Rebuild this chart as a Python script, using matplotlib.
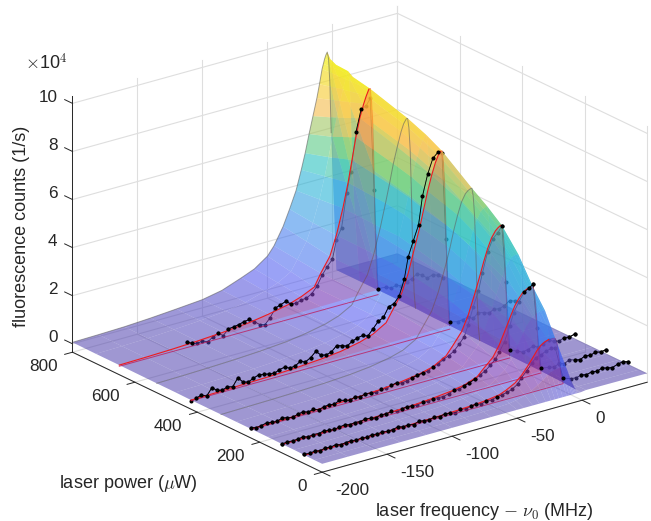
import numpy as np
import matplotlib
matplotlib.use("Agg")
import matplotlib.pyplot as plt
from matplotlib.colors import LinearSegmentedColormap
from mpl_toolkits.mplot3d.art3d import Poly3DCollection

plt.rcParams['font.family'] = ['Liberation Sans', 'DejaVu Sans']
plt.rcParams['mathtext.fontset'] = 'cm'

# Axis ticks
freq_ticks = [-200, -150, -100, -50, 0]
power_ticks = [0, 200, 400, 600, 800]
counts_ticks = [0, 2, 4, 6, 8, 10]

# Frequency nodes of the fit curves and of the surface
freq_fit = [-200, -180, -160, -140, -120, -100, -85, -70, -60, -50, -45, -38, -33, -28,
            -24, -21, -18, -15, -12, -10, -8, -7, -6, -5, -4, -3, -2, -1]

# Fit curves (x 1e4 counts)
fit_57 = [.01, .02, .03, .04, .05, .07, .10, .14, .19, .27, .38, .58, .82, 1.15,
          1.45, 1.68, 1.85, 1.95, 2.0, 2.0, 2.0, 1.95, 1.8, 1.5, 1.1, .6, .2, .05]
fit_125 = [.02, .03, .04, .06, .09, .13, .19, .28, .38, .58, .85, 1.2, 1.65, 2.25,
           2.75, 3.1, 3.35, 3.55, 3.65, 3.7, 3.7, 3.65, 3.4, 2.9, 2.1, 1.1, .4, .08]
fit_225 = [.03, .04, .06, .08, .12, .18, .26, .38, .52, .82, 1.15, 1.65, 2.25, 3.05,
           3.75, 4.3, 4.8, 5.2, 5.45, 5.55, 5.62, 5.6, 5.3, 4.6, 3.3, 1.7, .6, .1]
fit_410 = [.03, .05, .08, .11, .16, .24, .33, .50, .68, 1.0, 1.45, 2.05, 2.8, 3.8,
           4.6, 5.3, 6.0, 6.6, 7.1, 7.35, 7.5, 7.5, 7.1, 6.2, 4.4, 2.2, .8, .15]
fit_640 = [.05, .07, .10, .15, .22, .32, .45, .62, .80, 1.05, 1.55, 2.15, 2.95, 4.0,
           5.0, 5.9, 6.8, 7.55, 8.1, 8.4, 8.65, 8.65, 8.2, 7.2, 5.2, 2.6, .9, .2]

# Other rows of the surface
row_0 = [0.0] * 28
row_25 = [.0, .01, .01, .02, .02, .03, .04, .06, .08, .11, .16, .26, .38, .55,
          .70, .83, .93, .98, 1.0, 1.0, 1.0, .98, .90, .75, .55, .30, .10, .02]
row_90 = [.02, .02, .03, .05, .07, .10, .14, .21, .29, .44, .64, .92, 1.28, 1.78,
          2.2, 2.5, 2.7, 2.85, 2.93, 2.95, 2.95, 2.92, 2.72, 2.3, 1.65, .85, .3, .06]
row_175 = [.03, .04, .05, .07, .10, .15, .22, .33, .45, .70, 1.0, 1.42, 1.95, 2.68,
           3.3, 3.75, 4.2, 4.5, 4.68, 4.74, 4.75, 4.72, 4.5, 3.85, 2.8, 1.45, .5, .09]
row_275 = [.03, .05, .07, .09, .13, .20, .28, .42, .57, .88, 1.25, 1.8, 2.45, 3.3,
           4.05, 4.7, 5.25, 5.65, 5.95, 6.05, 6.1, 6.1, 5.75, 5.0, 3.6, 1.85, .65, .11]
row_324 = [.03, .05, .07, .10, .14, .21, .30, .45, .61, .92, 1.33, 1.9, 2.6, 3.5,
           4.3, 5.0, 5.6, 6.1, 6.4, 6.5, 6.55, 6.55, 6.2, 5.4, 3.9, 1.95, .7, .12]
row_470 = [.04, .06, .09, .12, .18, .26, .37, .54, .72, 1.05, 1.5, 2.1, 2.9, 3.95,
           4.8, 5.5, 6.25, 6.85, 7.4, 7.65, 7.85, 7.85, 7.45, 6.5, 4.6, 2.3, .8, .15]
row_530 = [.04, .06, .09, .13, .19, .28, .40, .57, .75, 1.05, 1.52, 2.12, 2.92, 3.95,
           4.9, 5.65, 6.45, 7.1, 7.7, 8.0, 8.17, 8.17, 7.75, 6.8, 4.85, 2.4, .85, .18]
row_725 = [.05, .07, .10, .16, .23, .33, .47, .71, .91, 1.22, 1.65, 2.3, 3.0, 3.9,
           4.8, 5.55, 6.35, 7.1, 7.75, 8.2, 8.6, 8.85, 8.9, 8.6, 7.4, 5.6, 4.3, 3.0]
row_800 = [.06, .08, .11, .17, .25, .34, .50, .80, 1.02, 1.4, 1.75, 2.45, 3.1, 3.8,
           4.6, 5.25, 6.0, 6.7, 7.4, 7.95, 8.55, 8.75, 8.95, 9.1, 9.2, 8.9, 7.9, 5.8]

surface_powers = [0, 25, 57, 90, 128, 175, 228, 275, 324, 420, 470, 530, 650, 725, 800]
surface_rows = [row_0, row_25, fit_57, row_90, fit_125, row_175, fit_225, row_275,
                row_324, fit_410, row_470, row_530, fit_640, row_725, row_800]
surface_tail_freq = [3, 50]
surface_tail_z = [.03, .02]

grey_powers = [324, 530, 800]

# Measured points
freq_data = [-200, -196, -192, -188, -184, -180, -176, -172, -168, -164, -160, -156, -152,
             -148, -144, -140, -136, -132, -128, -124, -120, -116, -112, -108, -104, -100,
             -96, -92, -88, -84, -80, -76, -72, -68, -64, -60, -56, -52,
             -48, -44, -40, -36, -33, -29, -25, -22, -18, -14, -10, -7,
             -4, -1, 5, 9, 13, 17, 21, 25, 29, 33, 37, 41, 45, 49]
data_57 = [.04, .02, .05, .01, .06, .03, .08, .02, .05, .07, .03, .06, .02,
           .08, .04, .07, .03, .05, .10, .04, .07, .02, .09, .06, .04, .08,
           .05, .10, .07, .04, .11, .08, .12, .15, .10, .17, .14, .22,
           .24, .28, .36, .50, .72, .95, 1.20, 1.40, 1.45, 1.55, 1.60, 1.58,
           .9, .22, .12, .09, .15, .10, .16, .12, .20, .14, .10, .18, .22, .16]
data_125 = [.02, .06, .03, .05, .08, .02, .06, .04, .09, .05, .03, .07, .10,
            .05, .08, .06, .11, .07, .04, .10, .08, .12, .06, .10, .14, .11,
            .09, .15, .12, .18, .16, .14, .20, .28, .26, .36, .42, .50,
            .62, .72, .90, 1.10, 1.35, 1.72, 2.30, 2.82, 3.20, 3.55, 3.68, 3.78,
            1.9, .2, .14, .10, .18, .12, .22, .15, .10, .20, .16, .24, .18, .22]
data_225 = [.08, .02, .05, .10, .06, .04, .12, .08, .03, .10, .14, .07, .12,
            .05, .10, .14, .09, .20, .14, .08, .16, .10, .18, .14, .12, .18,
            .16, .22, .27, .20, .24, .30, .34, .38, .40, .52, .58, .70,
            .80, .92, 1.15, 1.40, 1.85, 2.55, 3.15, 3.85, 4.65, 5.15, 5.35, 5.58,
            3.2, .35, .18, .10, .14, .22, .12, .20, .30, .18, .14, .22, .18, .25]
data_410 = [-.02, .05, .12, .02, .30, .14, .08, .16, .10, .42, .18, .12, .22,
            .30, .26, .22, .18, .28, .32, .22, .25, .38, .30, .42, .62, .40,
            .35, .42, .62, .55, .48, .62, .70, .74, .66, .90, 1.15, 1.25,
            1.64, 1.7, 1.95, 2.6, 3.48, 4.1, 4.7, 5.85, 6.7, 7.3, 7.5, 7.4,
            3.8, .3, .22, .25, .30, .18, .35, .30, .22, .32, .28, .35, .50, .42]
# the 640 uW scan starts later than the others
freq_data_640 = freq_data[13:]
data_640 = [.22, .12, .05, .10, .0, .14, .24, .08, .30, .32, .36, .42, .45,
            .30, .12, .05, .28, .62, .70, .78, .62, .58, .66, .68, .80,
            1.05, 1.45, 1.75, 2.0, 2.75, 3.2, 4.6, 5.4, 7.0, 7.9, 8.0, 8.25,
            4.4, .25, .22, .12, .18, .10, .20, .28, .42, .30, .12, .2, .12, -.05]

scan_powers = [57, 128, 228, 420, 650]
scan_fits = [fit_57, fit_125, fit_225, fit_410, fit_640]
scan_freqs = [freq_data, freq_data, freq_data, freq_data, freq_data_640]
scan_data = [data_57, data_125, data_225, data_410, data_640]
# above this frequency the points are no longer hidden behind the surface
scan_clear_from = [11, 23, 40, 100, 100]

xlim = (-200, 50)
ylim = (0, 800)
zlim = (-0.35, 10.3)

colour_stops = [(0.0, (80, 65, 170)), (0.1, (75, 80, 240)), (0.3, (50, 135, 235)),
                (0.54, (22, 188, 205)), (0.67, (105, 205, 113)), (0.81, (250, 190, 80)),
                (1.0, (240, 240, 20))]
cmap = LinearSegmentedColormap.from_list(
    'counts', [(s, tuple(v / 255 for v in c)) for s, c in colour_stops])

W, H = 651, 521
S = 800
dark = (0.15, 0.15, 0.15)
grid = (0.87, 0.87, 0.87)
tick_size = 12.3
label_size = 13

fig = plt.figure(figsize=(W / 100, H / 100), dpi=100)
ax = fig.add_axes([-51 / W, -129 / H, S / W, S / H], projection='3d', computed_zorder=False)
ax.set_proj_type('ortho')
ax.view_init(elev=21.4, azim=-127.2)
ax.set_box_aspect((408, 413, 275), zoom=623.6 / S)
ax.set_xlim(*xlim)
ax.set_ylim(*ylim)
ax.set_zlim(*zlim)
ax.set_xticks([])
ax.set_yticks([])
ax.set_zticks([])
ax.set_axis_off()
ax.patch.set_visible(False)

# Grid on the two back walls and the floor
for z in counts_ticks:
    ax.plot(xlim, [ylim[1]] * 2, [z] * 2, color=grid, lw=0.8, zorder=1)
    ax.plot([xlim[1]] * 2, ylim, [z] * 2, color=grid, lw=0.8, zorder=1)
for f in freq_ticks:
    ax.plot([f, f], [ylim[1]] * 2, zlim, color=grid, lw=0.8, zorder=1)
    ax.plot([f, f], ylim, [zlim[0]] * 2, color=grid, lw=0.8, zorder=1)
for p in power_ticks:
    ax.plot([xlim[1]] * 2, [p, p], zlim, color=grid, lw=0.8, zorder=1)
    ax.plot(xlim, [p, p], [zlim[0]] * 2, color=grid, lw=0.8, zorder=1)
ax.plot([xlim[1]] * 2, [ylim[1]] * 2, zlim, color=grid, lw=0.8, zorder=1)

# Measured points and falling sides of the fits lie under the surface
for p, fit, fr, d in zip(scan_powers, scan_fits, scan_freqs, scan_data):
    ax.plot(fr, [p] * len(fr), d, '-', color='k', lw=0.6, marker='o', ms=1.9, zorder=3)
    k = int(np.argmax(fit))
    ax.plot(freq_fit[k:], [p] * len(freq_fit[k:]), fit[k:], color=(0.93, 0.1, 0.12), lw=0.8, zorder=3)

# Surface, each facet coloured by the mean of its corners
Fgrid, Pgrid = np.meshgrid(freq_fit + surface_tail_freq, surface_powers)
Z = np.array([row + surface_tail_z for row in surface_rows])
Zface = Z.copy()
Zface[:-1, :-1] = (Z[:-1, :-1] + Z[1:, :-1] + Z[:-1, 1:] + Z[1:, 1:]) / 4
colours = cmap(np.clip(Zface / 9.0, 0, 1))
colours[..., 3] = 0.55 + 0.15 * np.clip(Zface / 9.0, 0, 1) ** 3
surf = ax.plot_surface(Fgrid, Pgrid, Z, rstride=1, cstride=1, facecolors=colours, shade=False,
                       linewidth=0, antialiased=True, zorder=4)
surf.set_edgecolor('none')
surf.set_linewidth(0)

# Thin slices across the surface
for p in grey_powers:
    row = surface_rows[surface_powers.index(p)]
    ax.plot(freq_fit, [p] * len(freq_fit), row, color=(0.35, 0.35, 0.35), alpha=0.55,
            lw=0.7, zorder=5)

# Fit patches, fits and the measured points above the surface
for p, fit, fr, d, clear in zip(scan_powers, scan_fits, scan_freqs, scan_data, scan_clear_from):
    verts = list(zip(freq_fit, [p] * len(freq_fit), fit))
    patch = Poly3DCollection([verts], facecolors=[(1, 0, 0.1, 0.16)], edgecolors='none')
    patch.set_zorder(5)
    ax.add_collection3d(patch)
    ax.plot([freq_fit[0], freq_fit[-1]], [p, p], [0, 0], color=(0.75, 0.05, 0.3), alpha=0.7,
            lw=0.7, zorder=5)
    k = int(np.argmax(fit))
    ax.plot(freq_fit[:k + 1], [p] * (k + 1), fit[:k + 1], color=(0.93, 0.1, 0.12), lw=0.8, zorder=6)
    fr = np.array(fr, dtype=float)
    d = np.array(d, dtype=float)
    above = (d >= np.interp(fr, freq_fit, fit) - 0.04) & (fr < 3)
    above = above | (fr >= clear)
    ax.plot(fr, [p] * len(fr), np.where(above, d, np.nan), '-', color='k', lw=0.6,
            marker='o', ms=1.9, zorder=7)

# Axis lines, ticks and tick labels
ax.plot(xlim, [ylim[0]] * 2, [zlim[0]] * 2, color=dark, lw=0.7, zorder=8)
ax.plot([xlim[0]] * 2, ylim, [zlim[0]] * 2, color=dark, lw=0.7, zorder=8)
ax.plot([xlim[0]] * 2, [ylim[1]] * 2, zlim, color=dark, lw=0.7, zorder=8)
for f in freq_ticks:
    ax.plot([f, f], [0, -25], [zlim[0]] * 2, color=dark, lw=0.7, zorder=8)
    ax.text(f - 12, -91, zlim[0], str(f), ha='left', va='center', color=dark,
            fontsize=tick_size, zorder=9)
for p in power_ticks:
    ax.plot([-200, -206], [p, p], [zlim[0]] * 2, color=dark, lw=0.7, zorder=8)
    ax.text(-221.5, p - 41.7, zlim[0], str(p), ha='right', va='center', color=dark,
            fontsize=tick_size, zorder=9)
for z in counts_ticks:
    ax.plot([-200, -200], [800, 825], [z, z], color=dark, lw=0.7, zorder=8)
    ax.text(-200, 848, z - 0.05, str(z), ha='right', va='center', color=dark,
            fontsize=tick_size, zorder=9)

# Axis labels, placed in figure pixels
fig.text(22 / W, 1 - 226 / H, 'fluorescence counts (1/s)', rotation=90, ha='center',
         va='center', color=dark, fontsize=label_size)
fig.text(128 / W, 1 - 484 / H, r'laser power ($\mu$W)', ha='center', va='center',
         color=dark, fontsize=label_size)
fig.text(484 / W, 1 - 511 / H, r'laser frequency $-$ $\nu_0$ (MHz)', ha='center',
         va='center', color=dark, fontsize=label_size)
fig.text(25 / W, 1 - 63 / H, r'$\times$10$^4$', ha='left', va='center', color=dark,
         fontsize=label_size)

fig.savefig('out.png', dpi=100)
